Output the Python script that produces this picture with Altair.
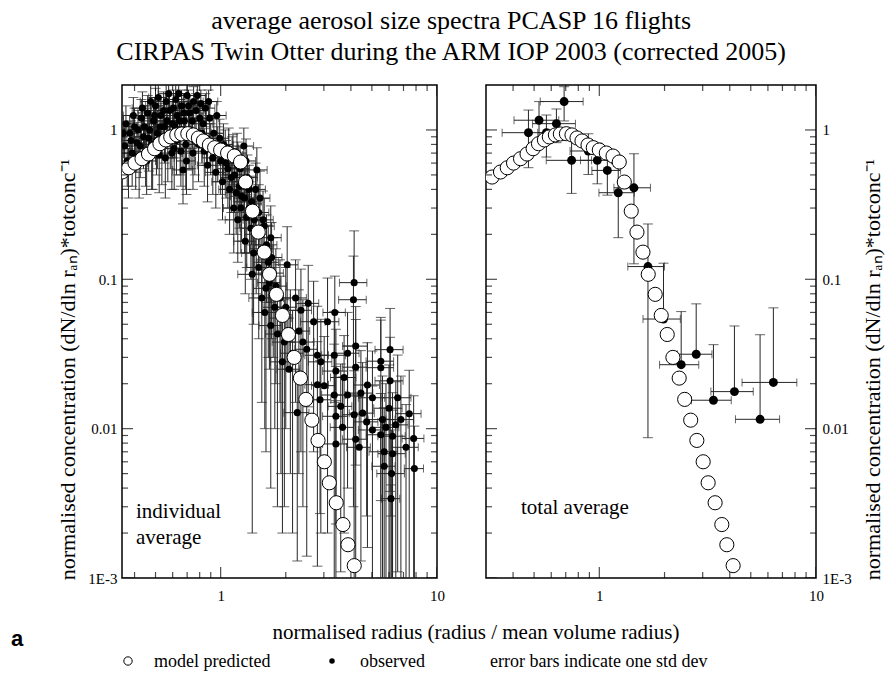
import altair as alt
import numpy as np
import pandas as pd

# ---------------------------------------------------------------------------
# Model predicted size spectrum (normalised radius, normalised concentration)
# ---------------------------------------------------------------------------
model_r = [0.320, 0.350, 0.376, 0.402, 0.433, 0.464, 0.495, 0.524, 0.558, 0.588,
           0.627, 0.661, 0.705, 0.748, 0.789, 0.832, 0.887, 0.938, 1.000, 1.077,
           1.157, 1.236, 1.304, 1.404, 1.492, 1.590, 1.682, 1.811, 1.931, 2.058,
           2.186, 2.337, 2.477, 2.641, 2.819, 3.015, 3.179, 3.423, 3.676, 3.877,
           4.145]
model_c = [0.484, 0.523, 0.558, 0.600, 0.642, 0.690, 0.749, 0.809, 0.857, 0.898,
           0.926, 0.940, 0.944, 0.926, 0.884, 0.844, 0.793, 0.761, 0.734, 0.701,
           0.669, 0.610, 0.448, 0.286, 0.207, 0.152, 0.108, 0.0793, 0.0573, 0.0427,
           0.0300, 0.0218, 0.0157, 0.0114, 0.00834, 0.0060, 0.00434, 0.00319, 0.00228, 0.00167,
           0.00121]

# ---------------------------------------------------------------------------
# Observed, total average of all flights: mean and one std dev in r and c
# ---------------------------------------------------------------------------
tot_r = [0.471, 0.527, 0.570, 0.634, 0.688, 0.745, 0.890, 0.979, 1.089, 1.223,
         1.445, 1.677, 1.978, 2.387, 2.80, 3.363, 4.203, 5.52, 6.357]
tot_c = [0.959, 1.162, 0.959, 1.102, 1.549, 0.626, 0.723, 0.626, 0.536, 0.380,
         0.410, 0.1217, 0.0542, 0.0268, 0.0315, 0.0155, 0.0177, 0.01155, 0.0204]
tot_rsd = [0.115, 0.123, 0.05, 0.142, 0.154, 0.176, 0.157, 0.16, 0.165, 0.227,
           0.277, 0.323, 0.387, 0.49, 0.51, 0.70, 0.93, 1.27, 1.80]
tot_csd = [0.40, 0.387, 0.30, 0.28, 0.40, 0.25, 0.22, 0.19, 0.17, 0.19,
           0.283, 0.113, 0.074, 0.034, 0.037, 0.021, 0.031, 0.031, 0.044]

# ---------------------------------------------------------------------------
# Observed, individual flight averages: mean and one std dev in r and c
# ---------------------------------------------------------------------------
ind_r = [0.36, 0.37, 0.38, 0.39, 0.40, 0.41, 0.42, 0.43, 0.44, 0.45,
         0.46, 0.47, 0.48, 0.49, 0.50, 0.51, 0.52, 0.53, 0.55, 0.56,
         0.57, 0.58, 0.60, 0.61, 0.62, 0.63, 0.65, 0.66, 0.67, 0.68,
         0.69, 0.70, 0.72, 0.73, 0.75, 0.76, 0.78, 0.80, 0.82, 0.85,
         0.88, 0.84, 0.87, 0.90, 0.92, 0.95, 0.97, 1.00, 1.02, 1.05,
         1.08, 1.10, 1.13, 1.15, 1.16, 1.20, 1.20, 1.22, 1.25, 1.28,
         1.29, 1.30, 1.33, 1.36, 1.38, 1.40, 1.42, 1.45, 1.47, 1.50,
         1.50, 1.55, 1.55, 1.59, 1.60, 1.62, 1.66, 1.705, 1.705, 1.75,
         1.83, 1.88, 1.93, 2.03, 2.07, 2.10, 2.22, 2.26, 2.35, 2.40,
         2.50, 2.54, 2.69, 2.80, 2.80, 2.88, 2.905, 3.01, 3.12, 3.35,
         3.35, 3.37, 3.41, 3.41, 3.41, 3.59, 3.66, 3.72, 3.86, 3.86,
         4.11, 4.14, 4.14, 4.21, 4.21, 4.21, 4.37, 4.45, 4.53, 4.73,
         4.77, 5.03, 5.03, 5.50, 5.50, 5.50, 5.60, 5.70, 5.70, 5.81,
         6.00, 6.07, 6.07, 6.13, 6.17, 6.23, 6.23, 6.45, 6.58, 6.81,
         7.19, 7.44, 7.80, 7.86,
         0.355, 0.365, 0.375, 0.385, 0.395, 0.405, 0.415, 0.425, 0.435, 0.445,
         0.455, 0.465, 0.475, 0.485, 0.495, 0.505, 0.515, 0.525, 0.535, 0.545,
         0.555, 0.565, 0.575, 0.585, 0.595, 0.605, 0.615, 0.625, 0.64, 0.645,
         0.655, 0.675, 0.685, 0.695, 0.71, 0.715, 0.74, 0.745, 0.77, 0.79,
         0.81, 0.83, 0.86, 0.89, 0.93, 0.96,
         0.99, 1.03, 1.06, 1.09, 1.12, 1.14, 1.18, 1.19, 1.23, 1.24,
         1.27, 1.31, 1.32, 1.35, 1.39, 1.43, 1.46, 1.52, 1.57, 1.63,
         1.68, 1.72, 1.78, 1.80, 1.90, 1.97, 2.00, 2.15, 2.30]
ind_c = [0.78, 0.62, 0.95, 0.70, 1.05, 0.82, 0.60, 1.20, 0.90, 0.72,
         1.30, 1.00, 0.80, 1.15, 1.45, 0.95, 0.68, 1.25, 1.05, 1.55,
         0.85, 1.35, 1.10, 0.75, 1.60, 1.25, 0.95, 1.45, 0.54, 1.15,
         0.80, 1.70, 1.30, 1.00, 1.55, 0.85, 1.70, 1.20, 0.95, 1.40,
         1.55, 0.72, 0.58, 0.80, 0.65, 0.52, 0.75, 0.62, 0.45, 0.70,
         0.55, 0.40, 0.65, 0.30, 0.50, 0.58, 0.25, 0.42, 0.36, 0.78,
         0.35, 0.18, 0.48, 0.30, 0.22, 0.108, 0.15, 0.40, 0.54, 0.28,
         0.12, 0.16, 0.075, 0.227, 0.060, 0.087, 0.13, 0.19, 0.049, 0.11,
         0.043, 0.075, 0.028, 0.125, 0.025, 0.045, 0.075, 0.0128, 0.062, 0.038,
         0.034, 0.069, 0.052, 0.031, 0.0197, 0.0156, 0.028, 0.0194, 0.052, 0.031,
         0.0168, 0.060, 0.0243, 0.0121, 0.0079, 0.0141, 0.0102, 0.022, 0.032, 0.0168,
         0.073, 0.095, 0.0124, 0.0357, 0.0258, 0.0085, 0.0075, 0.0173, 0.0127, 0.0111,
         0.0196, 0.0161, 0.0098, 0.0283, 0.0256, 0.0091, 0.0115, 0.0070, 0.0056, 0.0102,
         0.0137, 0.0338, 0.0209, 0.0034, 0.0050, 0.0089, 0.0068, 0.0106, 0.0161, 0.0115,
         0.0075, 0.0126, 0.0086, 0.0054,
         0.95, 1.10, 0.55, 0.85, 1.25, 0.65, 1.00, 0.78, 1.40, 1.05,
         0.62, 0.88, 1.55, 0.70, 1.25, 0.85, 1.65, 1.05, 0.78, 1.35,
         0.65, 1.15, 1.75, 0.95, 0.70, 1.40, 1.05, 0.85, 1.75, 1.15,
         0.72, 1.30, 0.95, 0.62, 1.45, 0.90, 1.15, 0.70, 1.35, 0.80,
         1.50, 1.10, 0.88, 1.20, 0.95, 1.25,
         0.88, 0.80, 0.60, 0.75, 0.48, 0.68, 0.38, 0.70, 0.55, 0.30,
         0.45, 0.62, 0.26, 0.40, 0.33, 0.25, 0.20, 0.35, 0.25, 0.17,
         0.095, 0.14, 0.065, 0.09, 0.055, 0.038, 0.065, 0.032, 0.045]
ind_rsd = [0.03, 0.03, 0.035, 0.03, 0.04, 0.035, 0.04, 0.04, 0.04, 0.045,
           0.045, 0.045, 0.05, 0.05, 0.05, 0.05, 0.05, 0.055, 0.055, 0.06,
           0.06, 0.06, 0.06, 0.06, 0.065, 0.065, 0.07, 0.07, 0.07, 0.07,
           0.07, 0.075, 0.075, 0.08, 0.08, 0.08, 0.08, 0.085, 0.09, 0.09,
           0.09, 0.09, 0.09, 0.10, 0.10, 0.10, 0.10, 0.11, 0.11, 0.11,
           0.12, 0.12, 0.12, 0.12, 0.13, 0.13, 0.15, 0.13, 0.14, 0.14,
           0.14, 0.15, 0.15, 0.15, 0.15, 0.20, 0.17, 0.16, 0.17, 0.17,
           0.18, 0.18, 0.20, 0.18, 0.20, 0.20, 0.19, 0.20, 0.20, 0.20,
           0.22, 0.22, 0.23, 0.25, 0.25, 0.26, 0.27, 0.30, 0.28, 0.30,
           0.30, 0.30, 0.35, 0.35, 0.35, 0.35, 0.36, 0.38, 0.40, 0.42,
           0.42, 0.40, 0.45, 0.45, 0.45, 0.45, 0.45, 0.50, 0.50, 0.50,
           0.60, 0.60, 0.50, 0.55, 0.55, 0.55, 0.55, 0.60, 0.60, 0.60,
           0.65, 0.70, 0.70, 0.80, 0.80, 0.80, 0.80, 0.85, 0.70, 0.85,
           0.90, 0.90, 0.90, 0.60, 0.90, 0.90, 0.90, 0.90, 1.00, 1.00,
           1.00, 1.00, 0.90, 0.80,
           0.03, 0.03, 0.03, 0.035, 0.04, 0.035, 0.04, 0.04, 0.045, 0.045,
           0.045, 0.045, 0.05, 0.05, 0.05, 0.05, 0.05, 0.055, 0.055, 0.055,
           0.055, 0.06, 0.06, 0.06, 0.06, 0.06, 0.065, 0.065, 0.065, 0.07,
           0.07, 0.07, 0.07, 0.07, 0.075, 0.075, 0.08, 0.08, 0.08, 0.085,
           0.085, 0.09, 0.09, 0.09, 0.10, 0.10,
           0.10, 0.11, 0.11, 0.12, 0.12, 0.12, 0.13, 0.13, 0.13, 0.14,
           0.14, 0.14, 0.15, 0.15, 0.15, 0.16, 0.17, 0.17, 0.18, 0.19,
           0.20, 0.20, 0.21, 0.22, 0.22, 0.24, 0.25, 0.26, 0.28]
ind_csd = [0.25, 0.20, 0.30, 0.28, 0.35, 0.30, 0.25, 0.40, 0.35, 0.30,
           0.40, 0.35, 0.40, 0.35, 0.45, 0.40, 0.30, 0.40, 0.45, 0.45,
           0.40, 0.40, 0.45, 0.35, 0.40, 0.45, 0.45, 0.40, 0.22, 0.40,
           0.40, 0.35, 0.40, 0.45, 0.40, 0.35, 0.30, 0.35, 0.35, 0.35,
           0.30, 0.30, 0.25, 0.30, 0.28, 0.22, 0.30, 0.25, 0.20, 0.30,
           0.25, 0.20, 0.25, 0.15, 0.22, 0.25, 0.12, 0.20, 0.18, 0.25,
           0.20, 0.10, 0.20, 0.15, 0.12, 0.106, 0.10, 0.20, 0.22, 0.15,
           0.08, 0.10, 0.06, 0.12, 0.05, 0.08, 0.10, 0.12, 0.045, 0.08,
           0.04, 0.06, 0.026, 0.10, 0.03, 0.04, 0.06, 0.0115, 0.055, 0.035,
           0.0326, 0.055, 0.045, 0.035, 0.0185, 0.0129, 0.026, 0.022, 0.050, 0.030,
           0.020, 0.045, 0.022, 0.014, 0.0075, 0.013, 0.012, 0.020, 0.028, 0.019,
           0.070, 0.116, 0.012, 0.030, 0.028, 0.008, 0.009, 0.016, 0.015, 0.0085,
           0.018, 0.017, 0.0095, 0.025, 0.030, 0.0081, 0.011, 0.0068, 0.006, 0.0098,
           0.013, 0.030, 0.020, 0.0008, 0.0048, 0.0085, 0.0065, 0.010, 0.015, 0.011,
           0.007, 0.012, 0.008, 0.005,
           0.30, 0.35, 0.20, 0.30, 0.40, 0.25, 0.35, 0.30, 0.40, 0.40,
           0.25, 0.35, 0.45, 0.30, 0.40, 0.35, 0.40, 0.40, 0.35, 0.45,
           0.30, 0.40, 0.40, 0.40, 0.30, 0.45, 0.40, 0.35, 0.35, 0.40,
           0.30, 0.45, 0.40, 0.25, 0.40, 0.35, 0.40, 0.30, 0.40, 0.35,
           0.35, 0.35, 0.30, 0.35, 0.30, 0.30,
           0.30, 0.30, 0.25, 0.28, 0.20, 0.25, 0.18, 0.25, 0.22, 0.15,
           0.20, 0.25, 0.14, 0.18, 0.16, 0.14, 0.12, 0.18, 0.14, 0.10,
           0.07, 0.10, 0.055, 0.07, 0.05, 0.035, 0.055, 0.03, 0.04]

# ---------------------------------------------------------------------------
# Axis ticks
# ---------------------------------------------------------------------------
x_major = [1, 10]
x_minor = [0.4, 0.5, 0.6, 0.7, 0.8, 0.9, 2, 3, 4, 5, 6, 7, 8, 9]
y_major = [0.001, 0.01, 0.1, 1]
y_minor = [0.002, 0.003, 0.004, 0.005, 0.006, 0.007, 0.008, 0.009,
           0.02, 0.03, 0.04, 0.05, 0.06, 0.07, 0.08, 0.09,
           0.2, 0.3, 0.4, 0.5, 0.6, 0.7, 0.8, 0.9]

SERIF = "Liberation Serif"
PANEL_H = 493
BAR = "#262626"
Y_TITLE = "normalised concentration (dN/dln r\u2090\u2099)*totconc\u207b\u00b9"
Y_LABELS = ("datum.value > 0.5 ? '1' : datum.value > 0.05 ? '0.1' : "
            "datum.value > 0.005 ? '0.01' : '1E-3'")

x_ticks = pd.DataFrame({"v": x_major + x_minor,
                        "major": [True] * len(x_major) + [False] * len(x_minor)})
y_ticks = pd.DataFrame({"v": y_major + y_minor,
                        "major": [True] * len(y_major) + [False] * len(y_minor)})
model_df = pd.DataFrame({"r": model_r, "c": model_c})


def error_tables(r, c, rsd, csd):
    """Mean points with +/- one std dev; the lower half is left out when it
    would fall to zero or below on the log axis."""
    d = pd.DataFrame({"r": r, "c": c, "rsd": rsd, "csd": csd})
    d["r_lo"] = d["r"] - d["rsd"]
    d["r_hi"] = d["r"] + d["rsd"]
    d["c_hi"] = d["c"] + d["csd"]
    low = d["c"] - d["csd"]
    d["has_lo"] = low > 0
    d["c_lo"] = np.where(d["has_lo"], low, d["c"])
    vcaps = pd.concat([
        pd.DataFrame({"r": d["r"], "cap": d["c_hi"]}),
        pd.DataFrame({"r": d.loc[d["has_lo"], "r"], "cap": d.loc[d["has_lo"], "c_lo"]}),
    ])
    hcaps = pd.concat([
        pd.DataFrame({"r": d["r_lo"], "c": d["c"]}),
        pd.DataFrame({"r": d["r_hi"], "c": d["c"]}),
    ])
    hcaps = hcaps[hcaps["r"] > 0]
    return d, vcaps, hcaps


def text_layer(text, x, y, size=21, align="left", font=SERIF, weight="normal"):
    return alt.Chart(pd.DataFrame({"t": [text]})).mark_text(
        align=align, baseline="alphabetic", font=font, fontSize=size,
        fontWeight=weight, color="black"
    ).encode(x=alt.value(x), y=alt.value(y), text="t:N")


def panel(xdomain, width, tables, dot_size, y_axis, extra):
    xs = alt.Scale(type="log", domain=xdomain, nice=False)
    ys = alt.Scale(type="log", domain=[0.001, 2], nice=False)
    x_axis = alt.Axis(values=x_major, labelExpr="datum.value > 5 ? '10' : '1'",
                      ticks=False, domain=False, grid=False, labelFlush=False,
                      labelPadding=10, labelFontSize=15, title=None)

    def X(f):
        return alt.X(f, type="quantitative", scale=xs, axis=x_axis)

    def Y(f):
        return alt.Y(f, type="quantitative", scale=ys, axis=y_axis)

    d, vc, hc = tables
    vbars = alt.Chart(d).mark_rule(color=BAR, strokeWidth=1, clip=True).encode(
        x=X("r"), y=Y("c_lo"), y2=alt.Y2("c_hi"))
    hbars = alt.Chart(d).mark_rule(color=BAR, strokeWidth=1, clip=True).encode(
        x=X("r_lo"), x2=alt.X2("r_hi"), y=Y("c"))
    vcap = alt.Chart(vc).mark_tick(orient="horizontal", size=10, thickness=1,
                                   color=BAR, clip=True).encode(x=X("r"), y=Y("cap"))
    hcap = alt.Chart(hc).mark_tick(orient="vertical", size=8, thickness=1,
                                   color=BAR, clip=True).encode(x=X("r"), y=Y("c"))
    dots = alt.Chart(d).mark_circle(size=dot_size, color="black", opacity=1,
                                    clip=True).encode(x=X("r"), y=Y("c"))
    model = alt.Chart(model_df).mark_circle(size=200, color="white", stroke="black",
                                            strokeWidth=1, opacity=1, clip=True).encode(
        x=X("r"), y=Y("c"))

    # inward frame ticks on all four sides
    tick_size = alt.condition("datum.major", alt.value(22), alt.value(12))
    xt = alt.Chart(x_ticks)
    yt = alt.Chart(y_ticks)
    frame = [
        xt.mark_tick(orient="vertical", thickness=1.2, color="black", clip=True).encode(
            x=X("v"), y=alt.value(0), size=tick_size),
        xt.mark_tick(orient="vertical", thickness=1.2, color="black", clip=True).encode(
            x=X("v"), y=alt.value(PANEL_H), size=tick_size),
        yt.mark_tick(orient="horizontal", thickness=1.2, color="black", clip=True).encode(
            y=Y("v"), x=alt.value(0), size=tick_size),
        yt.mark_tick(orient="horizontal", thickness=1.2, color="black", clip=True).encode(
            y=Y("v"), x=alt.value(width), size=tick_size),
    ]
    return alt.layer(vbars, hbars, vcap, hcap, dots, model, *frame, *extra).properties(
        width=width, height=PANEL_H)


left_axis = alt.Axis(orient="left", values=y_major, labelExpr=Y_LABELS,
                     ticks=False, domain=False, grid=False, labelPadding=5, labelFontSize=15,
                     title=Y_TITLE, titleFontSize=22, titleFont=SERIF, titleFontWeight="normal",
                     titlePadding=8, titleY=284)
right_axis = alt.Axis(orient="right", values=y_major, labelExpr=Y_LABELS,
                      ticks=False, domain=False, grid=False, labelPadding=6, labelFontSize=15,
                      title=Y_TITLE, titleFontSize=22, titleFont=SERIF, titleFontWeight="normal",
                      titleAngle=270, titleBaseline="top", titlePadding=11, titleY=284)

# legend row and common x-axis title, drawn below the left panel
legend_open = alt.Chart(pd.DataFrame({"k": [0]})).mark_circle(
    size=70, color="white", stroke="black", strokeWidth=1, opacity=1).encode(
    x=alt.value(6), y=alt.value(576))
legend_dot = alt.Chart(pd.DataFrame({"k": [0]})).mark_circle(
    size=30, color="black", opacity=1).encode(x=alt.value(210), y=alt.value(576))

left_extra = [
    text_layer("individual", 14, 433),
    text_layer("average", 14, 459),
    text_layer("normalised radius (radius / mean volume radius)", 354, 554, align="center"),
    text_layer("a", -111, 561, size=22, font="Liberation Sans", weight="bold"),
    legend_open,
    text_layer("model predicted", 32, 582, size=18),
    legend_dot,
    text_layer("observed", 238, 582, size=18),
    text_layer("error bars indicate one std dev", 368, 582, size=18),
]
right_extra = [text_layer("total average", 35, 429)]

left = panel([0.35, 10], 315, error_tables(ind_r, ind_c, ind_rsd, ind_csd), 50,
             left_axis, left_extra)
right = panel([0.3, 10], 330, error_tables(tot_r, tot_c, tot_rsd, tot_csd), 80,
              right_axis, right_extra)

chart = alt.hconcat(left, right, spacing=49, bounds="flush").properties(
    title=alt.TitleParams(
        text=["average aerosol size spectra PCASP 16 flights",
              "CIRPAS Twin Otter during the ARM IOP 2003 (corrected 2005)"],
        font=SERIF, fontSize=26, fontWeight="normal", color="black",
        anchor="middle", lineHeight=31, offset=19, dx=4),
    padding={"left": 10, "top": 8, "right": 5, "bottom": 5},
    background="white",
).configure_view(stroke="black", strokeWidth=1.5).configure_axis(
    labelFont=SERIF, titleFont=SERIF, labelColor="black", titleColor="black")

chart.save("out.html", embed_options={"renderer": "svg", "actions": False})
